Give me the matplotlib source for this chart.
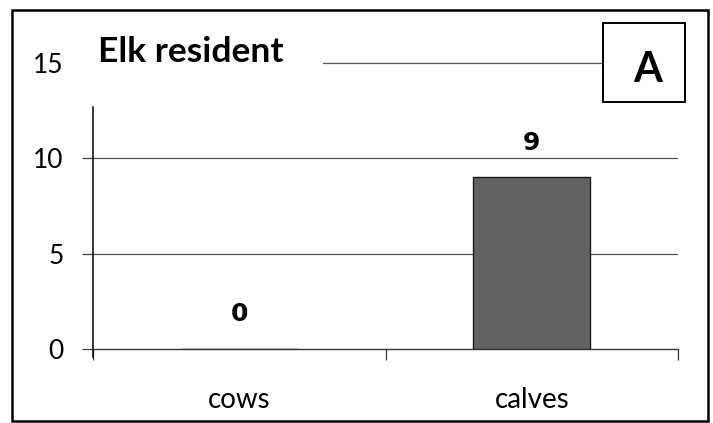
import matplotlib.pyplot as plt
import matplotlib.patches as mpatches
from matplotlib.ticker import FixedLocator

# data
categories = ['cows', 'calves']
counts = [0, 9]
y_ticks = [0, 5, 10, 15]
title = 'Elk resident'
panel = 'A'

W, H = 713, 423
fig = plt.figure(figsize=(W / 100, H / 100), dpi=100)
ax = fig.add_axes([93 / W, 1 - 349 / H, 585 / W, 286 / H])

x = list(range(len(categories)))
ax.bar(x, counts, width=0.4, color='#626262', edgecolor='#1a1a1a', linewidth=1.0, zorder=3)

# value labels above bars
for xi, v in zip(x, counts):
    ax.text(xi, v + 1.2, f'{v}', ha='center', va='bottom',
            fontsize=18, fontweight='bold', family='DejaVu Sans')

ax.set_xlim(-0.5, len(categories) - 0.5)
ax.set_ylim(0, 15)

# gridlines (the one at 15 is broken by the title and the panel box)
for yv in y_ticks[1:3]:
    ax.axhline(yv, color='#555555', linewidth=0.9, zorder=1)
ax.axhline(15, xmin=0.394, xmax=0.872, color='#555555', linewidth=0.9, zorder=1, clip_on=False)

ax.set_yticks(y_ticks)
ax.set_yticklabels([str(t) for t in y_ticks], fontsize=19, family='Lato')
ax.tick_params(axis='y', length=8, width=0.9, pad=13, color='#444444')
ax.yaxis.get_major_ticks()[-1].tick1line.set_visible(False)

ax.set_xticks(x)
ax.set_xticklabels(categories, fontsize=20, family='Lato')
ax.tick_params(axis='x', which='major', length=0, pad=27)
ax.xaxis.set_minor_locator(FixedLocator([-0.5, 0.5, 1.5]))
ax.tick_params(axis='x', which='minor', length=8, width=0.9, color='#333333')

for s in ['top', 'right']:
    ax.spines[s].set_visible(False)
ax.spines['left'].set_bounds(-0.42, 12.7)
ax.spines['left'].set_linewidth(1.1)
ax.spines['bottom'].set_linewidth(1.0)
ax.spines['bottom'].set_color('#333333')

fig.text(98 / W, 1 - 62 / H, title, fontsize=25.5, fontweight='bold', family='Lato',
         ha='left', va='baseline')

# panel letter box
fig.patches.append(mpatches.Rectangle((603 / W, 1 - 102 / H), 82 / W, 79 / H,
                                      transform=fig.transFigure, facecolor='white',
                                      edgecolor='black', linewidth=1.4, zorder=5))
fig.text(648 / W, 1 - 70 / H, panel, fontsize=30, fontweight='bold', family='Lato',
         ha='center', va='center', zorder=6)

# outer border
fig.patches.append(mpatches.Rectangle((12 / W, 2 / H), 696 / W, 411 / H,
                                      transform=fig.transFigure, fill=False,
                                      edgecolor='black', linewidth=1.8))

fig.savefig('out.png', dpi=100)
